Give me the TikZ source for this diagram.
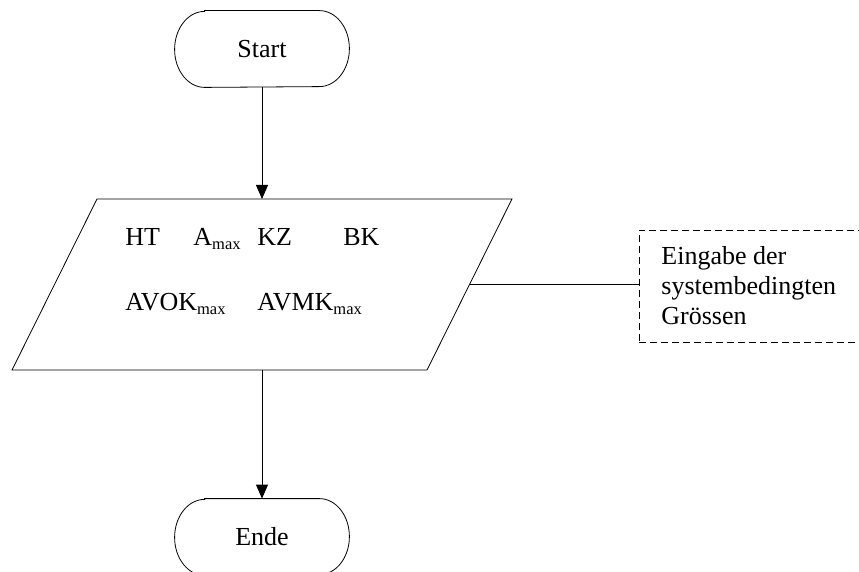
\documentclass[tikz,border=0pt]{standalone}
\usepackage{fontspec}
\setmainfont{Liberation Serif}
\usetikzlibrary{arrows.meta,calc}
\newcommand{\subx}[1]{\raisebox{-4.5pt}{\fontsize{16.5}{16.5}\selectfont #1}}
\begin{document}
\begin{tikzpicture}[x=1pt,y=-1pt, line width=0.8pt,
 txt/.style={font=\fontsize{26}{28}\selectfont, inner sep=0pt, anchor=base west},
 arr/.style={-{Triangle[length=14pt,width=12pt]}},
 term/.style={minimum width=174pt, minimum height=76pt, inner sep=0pt, font=\fontsize{26}{28}\selectfont}]
\useasboundingbox (0,0) rectangle (859,572);
% terminals
\node[term] (start) at (262,49) {Start};
\draw ([xshift=30pt]start.north west) -- ([xshift=-30pt]start.north east)
  arc[start angle=90,end angle=-90,x radius=30pt,y radius=38pt]
  -- ([xshift=30pt]start.south west)
  arc[start angle=270,end angle=90,x radius=30pt,y radius=38pt] -- cycle;
\node[term] (ende) at (262,537) {Ende};
\draw ([xshift=30pt]ende.north west) -- ([xshift=-30pt]ende.north east)
  arc[start angle=90,end angle=-90,x radius=30pt,y radius=38pt]
  -- ([xshift=30pt]ende.south west)
  arc[start angle=270,end angle=90,x radius=30pt,y radius=38pt] -- cycle;
% input/output parallelogram
\coordinate (ioTL) at (97,199);
\coordinate (ioTR) at (512,199);
\coordinate (ioBR) at (427,370);
\coordinate (ioBL) at (12,370);
\coordinate (iotop) at (262,199);
\coordinate (iobot) at (262,370);
\coordinate (ioright) at ($(ioTR)!0.497!(ioBR)$);
\draw (ioTL) -- (ioTR) -- (ioBR) -- (ioBL) -- cycle;
\node[txt] (ht) at (125,245) {HT};
\node[txt] (amax) at (193,245) {A\subx{max}};
\node[txt] (kz) at (257,245) {KZ};
\node[txt] (bk) at (343,245) {BK};
\node[txt] (avok) at (125,310) {AVOK\subx{max}};
\node[txt] (avmk) at (257,310) {AVMK\subx{max}};
% note
\node[draw, dash pattern=on 7pt off 4pt, minimum width=233pt, minimum height=112pt, inner sep=0pt] (note) at (755.5,286) {};
\node[font=\fontsize{26}{30}\selectfont, inner sep=0pt, anchor=west, align=left] (notetext) at (661,286) {Eingabe der\\systembedingten\\Grössen};
% connectors
\draw[arr] (start.south) -- (iotop);
\draw[arr] (iobot) -- (ende.north);
\draw (ioright) -- (ioright -| note.west);
\end{tikzpicture}
\end{document}
